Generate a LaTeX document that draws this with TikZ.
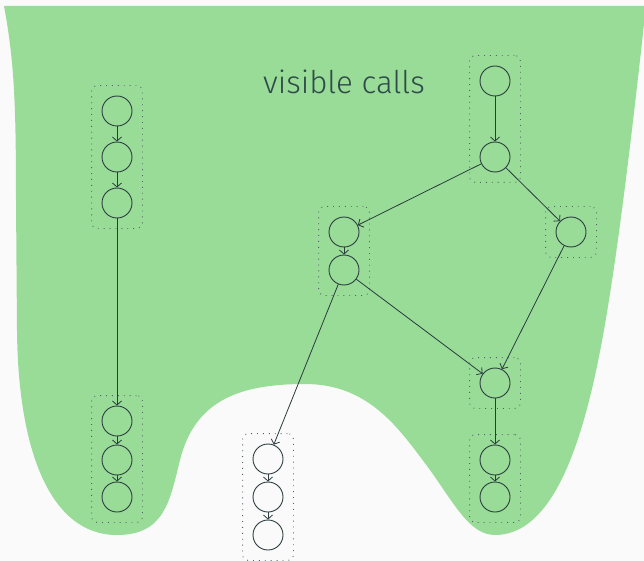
\documentclass[tikz,border=0pt]{standalone}
\usepackage{fontspec}
\setmainfont{Fira Sans}
\IfFontExistsTF{Fira Sans Light}
  {\newfontfamily\titlefont{Fira Sans Light}}
  {\newfontfamily\titlefont{Fira Sans}}
\usetikzlibrary{arrows.meta,fit}
\definecolor{bgpaper}{HTML}{FAFAFA}
\definecolor{regiongreen}{HTML}{98DC98}
\definecolor{ink}{HTML}{2B3B3E}
\definecolor{labelink}{HTML}{2F4A48}
\tikzset{
  call/.style={circle,draw=ink,line width=0.9pt,minimum size=30pt,inner sep=0pt},
  group/.style={draw=ink!80,line width=0.9pt,dash pattern=on 0.9pt off 5pt,rounded corners=6pt,inner sep=10pt},
  flow/.style={draw=ink,line width=0.8pt,-{Straight Barb[length=4pt,width=9pt,line width=0.8pt]}},
}
\begin{document}
\begin{tikzpicture}[x=1pt,y=-1pt]
  \useasboundingbox (0,0) rectangle (644,561);
  \fill[bgpaper] (0,0) rectangle (644,561);
  % region of visible calls
  \fill[regiongreen] (4,6) -- (646,6)
    .. controls (640,60) and (625,200) .. (609,300)
    .. controls (590,420) and (560,535) .. (495,535)
    .. controls (470,535) and (455,505) .. (430,470)
    .. controls (400,430) and (370,384) .. (305,384)
    .. controls (240,384) and (195,400) .. (180,460)
    .. controls (170,500) and (165,535) .. (117,535)
    .. controls (50,535) and (18,450) .. (17,330)
    -- (16,200)
    .. controls (16,100) and (14,60) .. (4,6) -- cycle;
  \node[font=\titlefont\fontsize{31.3}{35}\selectfont,text=labelink,anchor=base] (title) at (344,94) {visible calls};

  % left chain
  \node[call] (l1) at (117,111) {};
  \node[call] (l2) at (117,157) {};
  \node[call] (l3) at (117,203) {};
  \node[call] (l4) at (117,421) {};
  \node[call] (l5) at (117,460) {};
  \node[call] (l6) at (117,497) {};
  % top right
  \node[call] (t1) at (495,81) {};
  \node[call] (t2) at (495,157) {};
  % middle pair
  \node[call] (m1) at (344,232) {};
  \node[call] (m2) at (344,270) {};
  % right single
  \node[call] (r1) at (571,232) {};
  % lower right
  \node[call] (b1) at (495,383) {};
  \node[call] (b2) at (495,460) {};
  \node[call] (b3) at (495,497) {};
  % lower middle
  \node[call] (c1) at (268,459) {};
  \node[call] (c2) at (268,497) {};
  \node[call] (c3) at (268,535) {};

  % groups
  \node[group,fit=(l1)(l3)] (gl1) {};
  \node[group,fit=(l4)(l6)] (gl2) {};
  \node[group,fit=(t1)(t2)] (gt) {};
  \node[group,fit=(m1)(m2)] (gm) {};
  \node[group,fit=(r1)] (gr) {};
  \node[group,fit=(b1)] (gb1) {};
  \node[group,fit=(b2)(b3)] (gb2) {};
  \node[group,fit=(c1)(c3)] (gc) {};

  % calls
  \draw[flow] (l1) -- (l2);
  \draw[flow] (l2) -- (l3);
  \draw[flow] (l3) -- (l4);
  \draw[flow] (l4) -- (l5);
  \draw[flow] (l5) -- (l6);
  \draw[flow] (t1) -- (t2);
  \draw[flow] (t2) -- (m1);
  \draw[flow] (t2) -- (r1);
  \draw[flow] (m1) -- (m2);
  \draw[flow] (m2) -- (b1);
  \draw[flow] (r1) -- (b1);
  \draw[flow] (m2) -- (c1);
  \draw[flow] (b1) -- (b2);
  \draw[flow] (b2) -- (b3);
  \draw[flow] (c1) -- (c2);
  \draw[flow] (c2) -- (c3);
\end{tikzpicture}
\end{document}
